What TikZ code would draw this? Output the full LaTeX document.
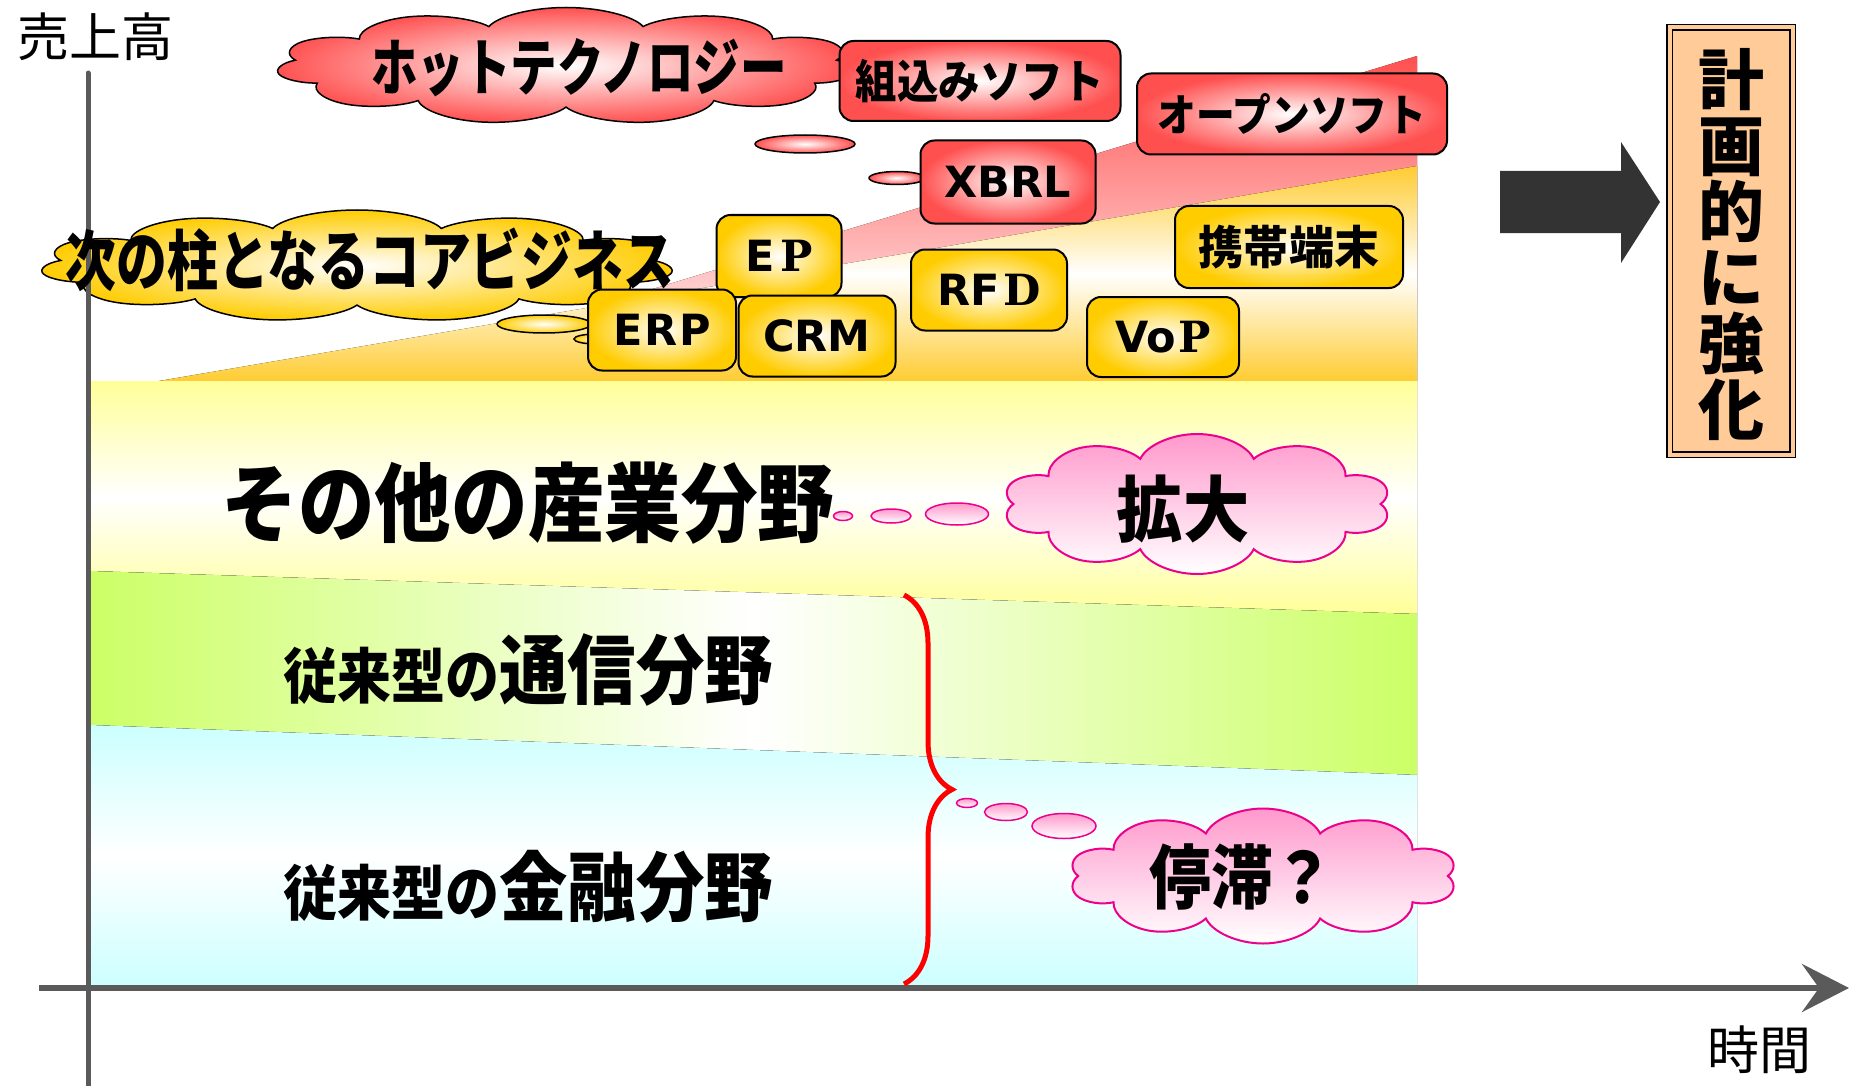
\documentclass[tikz,border=0pt]{standalone}
\usepackage{fontspec}
\setmainfont{DejaVu Sans}
\newfontfamily\jpfont{Noto Sans CJK JP}
\newfontfamily\slabfont{DejaVu Serif}
\usetikzlibrary{shapes.symbols,shapes.geometric,arrows.meta,decorations.pathreplacing}

\definecolor{axisgray}{HTML}{5A5A5A}
\definecolor{hotred}{HTML}{FF5050}
\definecolor{gold}{HTML}{FFCC00}
\definecolor{orangeband}{HTML}{FFCC33}
\definecolor{pinkc}{HTML}{FF99CC}
\definecolor{bandblue}{HTML}{CCFFFF}
\definecolor{bandgreen}{HTML}{CCFF66}
\definecolor{bandyellow}{HTML}{FFFF99}
\definecolor{peach}{HTML}{FFCC99}
\definecolor{darkarrow}{HTML}{333333}

\newcommand{\cnd}[2]{\scalebox{#1}[1]{#2}}
\newcommand{\slab}[1]{{\slabfont\bfseries #1}}
\newcommand{\jpsize}[1]{\jpfont\bfseries\fontsize{#1}{#1}\selectfont}

\tikzset{vaxis/.style={line width=5pt, axisgray, line cap=round}}
\tikzset{haxis/.style={line width=6pt, axisgray, -{Stealth[length=47pt, width=48pt, inset=17pt]}}}
\tikzset{axislabel/.style={inner sep=0pt, font=\jpfont\fontsize{52}{52}\selectfont}}
\tikzset{tagbox/.style={draw=black, line width=2pt, rounded corners=14pt, inner sep=0pt, inner color=white, font=\bfseries\fontsize{43}{43}\selectfont}}
\tikzset{redbox/.style={tagbox, outer color=hotred}}
\tikzset{goldbox/.style={tagbox, outer color=gold}}
\tikzset{redcloud/.style={cloud, cloud puffs=11, cloud ignores aspect, transform shape, draw=black, line width=1.5pt, inner sep=0pt, inner color=white, outer color=hotred}}
\tikzset{goldcloud/.style={redcloud, outer color=gold}}
\tikzset{pinkcloud/.style={cloud, cloud puffs=10, cloud ignores aspect, transform shape, draw=magenta, line width=2pt, inner sep=0pt, top color=pinkc, bottom color=white}}
\tikzset{redbubble/.style={ellipse, draw=black, line width=1.5pt, inner sep=0pt, inner color=white, outer color=hotred}}
\tikzset{goldbubble/.style={redbubble, outer color=gold}}
\tikzset{pinkbubble/.style={ellipse, draw=magenta, line width=1.5pt, inner sep=0pt, top color=pinkc, bottom color=white}}
\tikzset{bigtext/.style={inner sep=0pt}}
\tikzset{brace/.style={decorate, decoration={brace, amplitude=48pt}, red, line width=5pt}}

\begin{document}
\begin{tikzpicture}[x=1pt, y=-1pt]
\useasboundingbox (0,0) rectangle (1849,1086);
% bands
\fill[top color=hotred, bottom color=white] (351,381) -- (1417,56) -- (1417,381) -- cycle;
\fill[top color=orangeband, bottom color=orangeband, middle color=white] (159,381) -- (1417,166) -- (1417,381) -- cycle;
\fill[top color=bandyellow, bottom color=bandyellow, middle color=white] (90,381) -- (1417,381) -- (1417,614) -- (90,571) -- cycle;
\fill[left color=bandgreen, right color=bandgreen, middle color=white] (90,571) -- (1417,614) -- (1417,775) -- (90,725) -- cycle;
\fill[top color=bandblue, bottom color=bandblue, middle color=white] (90,725) -- (1417,775) -- (1417,988) -- (90,988) -- cycle;

% clouds
\begin{scope}[shift={(566,66)}, xscale=3.1]
\node[redcloud, minimum width=187pt, minimum height=117pt] (hotcloud) {};
\end{scope}
\node[redbubble, minimum width=100pt, minimum height=18pt] (hotbub1) at (805,144) {};
\node[redbubble, minimum width=56pt, minimum height=13pt] (hotbub2) at (897,178) {};
\begin{scope}[shift={(357,266)}, xscale=3.5]
\node[goldcloud, minimum width=181pt, minimum height=112pt] (corecloud) {};
\end{scope}
\node[goldbubble, minimum width=94pt, minimum height=18pt] (corebub1) at (544,324) {};
\node[goldbubble, minimum width=44pt, minimum height=10pt] (corebub2) at (596,339) {};
\begin{scope}[shift={(1197,504)}, xscale=1.75]
\node[pinkcloud, minimum width=222pt, minimum height=140pt] (growcloud) {};
\end{scope}
\node[pinkbubble, minimum width=19pt, minimum height=9pt] (growbub1) at (843,516) {};
\node[pinkbubble, minimum width=40pt, minimum height=14pt] (growbub2) at (891,516) {};
\node[pinkbubble, minimum width=63pt, minimum height=22pt] (growbub3) at (957,514) {};
\begin{scope}[shift={(1263,876)}, xscale=1.75]
\node[pinkcloud, minimum width=222pt, minimum height=135pt] (stallcloud) {};
\end{scope}
\node[pinkbubble, minimum width=21pt, minimum height=9pt] (stallbub1) at (967,803) {};
\node[pinkbubble, minimum width=43pt, minimum height=17pt] (stallbub2) at (1006,812) {};
\node[pinkbubble, minimum width=64pt, minimum height=25pt] (stallbub3) at (1064,826) {};

% axes
\coordinate (ytop) at (88,73);
\coordinate (ybot) at (88,1086);
\coordinate (xleft) at (39,988);
\coordinate (xright) at (1849,988);
\draw[vaxis] (ybot) -- (ytop);
\draw[haxis] (xleft) -- (xright);
\node[axislabel] (ylabel) at (95,37) {売上高};
\node[axislabel] (xlabel) at (1759,1050) {時間};

% tags
\node[redbox, minimum width=281pt, minimum height=80pt] (embbox) at (980,81) {\cnd{0.9}{\jpsize{46}組込みソフト}};
\node[redbox, minimum width=310pt, minimum height=81pt] (ossbox) at (1292,114) {\cnd{0.88}{\jpsize{44}オープンソフト}};
\node[redbox, minimum width=175pt, minimum height=83pt] (xbrlbox) at (1008,182) {XBRL};
\node[goldbox, minimum width=125pt, minimum height=82pt] (eipbox) at (779,256) {E\kern6pt\slab{P}};
\node[goldbox, minimum width=148pt, minimum height=81pt] (erpbox) at (662,330) {E\kern2pt R\kern2pt P};
\node[goldbox, minimum width=157pt, minimum height=81pt] (crmbox) at (817,336) {CRM};
\node[goldbox, minimum width=156pt, minimum height=81pt] (rfidbox) at (989,290) {RF\kern4pt\slab{D}};
\node[goldbox, minimum width=228pt, minimum height=82pt] (mobilebox) at (1289,247) {\cnd{0.98}{\jpsize{46}携帯端末}};
\node[goldbox, minimum width=152pt, minimum height=80pt] (voipbox) at (1163,337) {Vo\kern3pt\slab{P}};

% texts
\node[bigtext, font=\jpsize{62}] (hottext) at (579,68) {\cnd{0.75}{ホットテクノロジー}};
\node[bigtext, font=\jpsize{66}] (coretext) at (370,260) {\cnd{0.77}{次の柱となるコアビジネス}};
\node[bigtext, font=\jpsize{86}] (othertext) at (528,503) {\cnd{0.89}{その他の産業分野}};
\node[bigtext] (teltext) at (528,670) {\cnd{0.9}{{\jpsize{60}従来型の}{\jpsize{76}通信分野}}};
\node[bigtext] (fintext) at (528,887) {\cnd{0.9}{{\jpsize{60}従来型の}{\jpsize{76}金融分野}}};
\node[bigtext, font=\jpsize{72}] (growtext) at (1183,509) {\cnd{0.92}{拡大}};
\node[bigtext, font=\jpsize{70}] (stalltext) at (1242,877) {\cnd{0.88}{停滞？}};

% brace
\coordinate (bracetop) at (904,595);
\coordinate (bracebot) at (904,984);
\draw[brace] (bracetop) -- (bracebot);

% right side
\fill[darkarrow] (1500,171) -- (1621,171) -- (1621,142) -- (1660,202) -- (1621,263) -- (1621,233) -- (1500,233) -- cycle;
\node[draw=black, line width=1.5pt, double=peach, double distance=4pt, fill=peach, minimum width=123pt, minimum height=427pt] (planbox) at (1731,241) {};
\node[bigtext, align=center, font=\jpsize{66}] (plantext) at (1731,245) {計\\画\\的\\に\\強\\化};
\end{tikzpicture}
\end{document}
